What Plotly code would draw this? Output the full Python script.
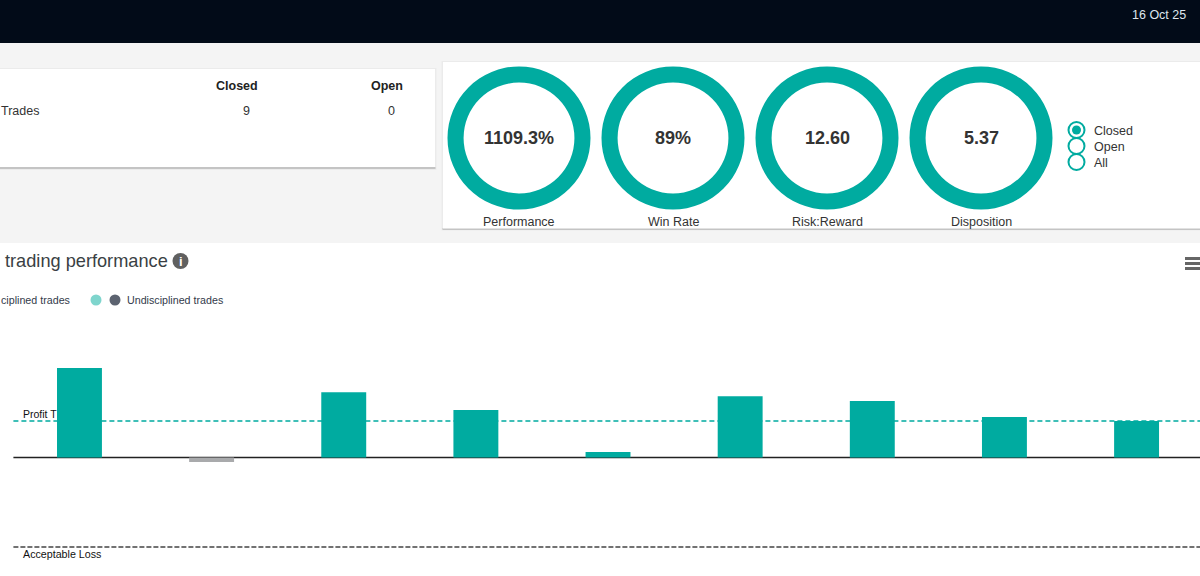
"""Trading dashboard: KPI rings and per-trade performance bars."""

import plotly.graph_objects as go

# -- Data -------------------------------------------------------------------
TRADES = [1, 2, 3, 4, 5, 6, 7, 8, 9]
PERF = [245, -12, 179, 130, 15, 168, 155, 111, 100]
PROFIT_TARGET = 100
ACCEPTABLE_LOSS = -245

KPI_NAMES = ["Performance", "Win Rate", "Risk:Reward", "Disposition"]
KPI_VALUES = ["1109.3%", "89%", "12.60", "5.37"]
RING_SHARE = [100, 100, 100, 100]

TABLE_HEAD = ["Closed", "Open"]
TABLE_ROW = ["9", "0"]
RADIO_LABELS = ["Closed", "Open", "All"]

# -- Style ------------------------------------------------------------------
W, H = 1200, 576
TEAL = "#00aba0"
GREY_BAR = "#a9aaac"
DARK = "#333333"
FONT = "Liberation Sans"


def px(x):
    return x / W


def py(y):
    return 1 - y / H


def rect(x0, y0, x1, y1, color, layer="below"):
    return dict(type="rect", xref="paper", yref="paper", x0=px(x0), x1=px(x1),
                y0=py(y0), y1=py(y1), fillcolor=color, line_width=0, layer=layer)


def circle(cx, cy, r, fill, line=None, width=0):
    return dict(type="circle", xref="paper", yref="paper", x0=px(cx - r), x1=px(cx + r),
                y0=py(cy + r), y1=py(cy - r), fillcolor=fill, layer="above",
                line=dict(color=line or fill, width=width))


def label(x, y, text, size=12, color=DARK, anchor="center", bold=False):
    return dict(xref="paper", yref="paper", x=px(x), y=py(y), text=f"<b>{text}</b>" if bold else text,
                showarrow=False, xanchor=anchor, yanchor="middle",
                font=dict(family=FONT, size=size, color=color))


fig = go.Figure()

# -- Bars -------------------------------------------------------------------
fig.add_trace(go.Bar(
    x=TRADES, y=PERF, width=0.34,
    marker=dict(color=[TEAL if v >= 0 else GREY_BAR for v in PERF], line_width=0),
    showlegend=False, hoverinfo="skip",
))

# -- Rings ------------------------------------------------------------------
ring_centres = [519, 673, 827, 981]
for cx, share, name in zip(ring_centres, RING_SHARE, KPI_NAMES):
    fig.add_trace(go.Pie(
        values=[share], labels=[name], hole=0.775, sort=False,
        marker=dict(colors=[TEAL], line_width=0),
        textinfo="none", hoverinfo="skip", showlegend=False,
        domain=dict(x=[px(cx - 71.5), px(cx + 71.5)], y=[py(209.5), py(66.5)]),
    ))

# -- Panels -----------------------------------------------------------------
shapes = [
    rect(0, 0, W, H, "#f4f4f4"),
    rect(0, 0, W, 43, "#020b18"),
    rect(0, 68, 436.5, 170, "#ebebeb"),
    rect(0, 167, 435.5, 169, "#c4c4c4"),
    rect(0, 69, 435, 167, "#ffffff"),
    rect(441.5, 61, W, 230.5, "#ebebeb"),
    rect(442.5, 228, W, 230, "#c4c4c4"),
    rect(443, 62, W, 228.5, "#ffffff"),
    rect(0, 243, W, H, "#ffffff"),
    # hamburger menu
    rect(1185, 257, W, 260, "#666666", "above"),
    rect(1185, 262, W, 265, "#666666", "above"),
    rect(1185, 267, W, 270, "#666666", "above"),
    # legend dots and info icon
    circle(96, 300, 5.5, "#7fd5cd"),
    circle(115, 300, 5.5, "#5c6370"),
    circle(180.5, 261, 8, "#606060"),
    # reference lines sit behind the bars
    dict(type="line", xref="x domain", yref="y", x0=0, x1=1, y0=PROFIT_TARGET, y1=PROFIT_TARGET,
         line=dict(color=TEAL, width=1.5, dash="5px,3px"), layer="below"),
    dict(type="line", xref="x domain", yref="y", x0=0, x1=1, y0=0, y1=0,
         line=dict(color="#222222", width=1.5), layer="below"),
    dict(type="line", xref="x domain", yref="y", x0=0, x1=1, y0=ACCEPTABLE_LOSS, y1=ACCEPTABLE_LOSS,
         line=dict(color="#444444", width=1.5, dash="5px,2px"), layer="below"),
]
radio_y = [130, 146, 162]
for ry in radio_y:
    shapes.append(circle(1076.5, ry, 8, "rgba(0,0,0,0)", TEAL, 2))
shapes.append(circle(1076.5, radio_y[0], 4.5, TEAL))

# -- Text -------------------------------------------------------------------
notes = [
    label(1130, 15, "16 Oct 25", 12.5, "#dfe6ee", "left"),
    label(237, 86, TABLE_HEAD[0], 12.5, "#222222", bold=True),
    label(387, 86, TABLE_HEAD[1], 12.5, "#222222", bold=True),
    label(-1, 110.5, "Trades", 12.5, DARK, "left"),
    label(246.5, 110.5, TABLE_ROW[0], 12.5),
    label(391.5, 110.5, TABLE_ROW[1], 12.5),
    label(3, 261, "trading performance", 18.2, "#3a3f44", "left"),
    label(180.5, 261, "i", 13, "#ffffff", bold=True),
    label(71.5, 300, "ciplined trades", 10.7, "#333a4a", "right"),
    label(125, 300, "Undisciplined trades", 10.7, "#333a4a", "left"),
    label(21, 414, "Profit T", 10.5, "#111111", "left"),
    label(21, 554, "Acceptable Loss", 10.7, "#111111", "left"),
]
for cx, value, name in zip(ring_centres, KPI_VALUES, KPI_NAMES):
    notes.append(label(cx, 138, value, 18, DARK, bold=True))
    notes.append(label(cx, 222, name, 12.5, DARK))
for ry, text in zip(radio_y, RADIO_LABELS):
    notes.append(label(1092, ry + 0.5, text, 12.5, DARK, "left"))

# y axis scale: 36.5 px per 100 units, zero at y=457.5
fig.update_layout(
    width=W, height=H,
    margin=dict(l=0, r=0, t=0, b=0),
    paper_bgcolor="#ffffff", plot_bgcolor="rgba(0,0,0,0)",
    xaxis=dict(domain=[px(13.4), 1], range=[0.5, 9.48], visible=False),
    yaxis=dict(domain=[0, py(320)], range=[-(576 - 457.5) / 0.365, (457.5 - 320) / 0.365], visible=False),
    shapes=shapes,
    annotations=notes,
    bargap=0.66,
)

# the default body margin would push the figure 8px in
fig.write_html("out.html", config=dict(displayModeBar=False),
               post_script="document.body.style.margin='0';document.body.style.overflow='hidden';")
